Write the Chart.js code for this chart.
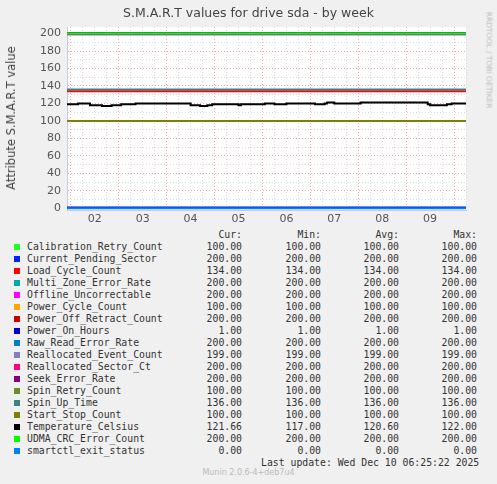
<!DOCTYPE html>
<html>
<head>
<meta charset="utf-8">
<script src="https://cdn.jsdelivr.net/npm/chart.js@4/dist/chart.umd.min.js"></script>
<style>
body { margin: 0; background: #f0f0f0; width: 497px; height: 484px; overflow: hidden; position: relative; font-family: "DejaVu Sans", sans-serif; }
#wrap { position: absolute; left: 0; top: 0; width: 497px; height: 225px; }
#title { position: absolute; top: 5px; left: 0; width: 497px; text-align: center; font-size: 12.5px; color: #444; }
#ylab { position: absolute; left: 11px; top: 118px; transform: translate(-50%, -50%) rotate(-90deg); font-size: 11.5px; color: #444; white-space: nowrap; }
#rrd { position: absolute; left: 489px; top: 60px; transform: translate(-50%, -50%) rotate(90deg); font-size: 7.5px; color: #bbb; white-space: nowrap; }
#legend { position: absolute; top: 229px; left: 0; font-family: "DejaVu Sans Mono", monospace; font-size: 9.8px; color: #333; }
.row { position: absolute; height: 12px; white-space: nowrap; }
.sw { position: absolute; width: 6px; height: 6px; top: 3px; }
.num { position: absolute; text-align: right; width: 70px; }
#foot { position: absolute; top: 468px; left: 0; width: 497px; text-align: center; font-size: 8px; color: #bbb; }
</style>
</head>
<body>
<div id="wrap"><canvas id="c" width="497" height="225"></canvas></div>
<div id="title">S.M.A.R.T values for drive sda - by week</div>
<div id="ylab">Attribute S.M.A.R.T value</div>
<div id="rrd">RRDTOOL / TOBI OETIKER</div>
<div id="legend"></div>
<div id="foot">Munin 2.0.6-4+deb7u4</div>
<script>
const names = ['Calibration_Retry_Count', 'Current_Pending_Sector', 'Load_Cycle_Count', 'Multi_Zone_Error_Rate',
  'Offline_Uncorrectable', 'Power_Cycle_Count', 'Power_Off_Retract_Count', 'Power_On_Hours', 'Raw_Read_Error_Rate',
  'Reallocated_Event_Count', 'Reallocated_Sector_Ct', 'Seek_Error_Rate', 'Spin_Retry_Count', 'Spin_Up_Time',
  'Start_Stop_Count', 'Temperature_Celsius', 'UDMA_CRC_Error_Count', 'smartctl_exit_status'];
const colors = ['#22ff22', '#0022ff', '#ff0000', '#00aaaa', '#ff00ff', '#ffa500', '#cc0000', '#0000cc', '#0080c0',
  '#8080c0', '#ff0080', '#800080', '#688e23', '#408080', '#808000', '#000000', '#00ff00', '#0080ff'];
const curVals = [100, 200, 134, 200, 200, 100, 200, 1, 200, 199, 200, 200, 100, 136, 100, 121.66, 200, 0];
const minVals = [100, 200, 134, 200, 200, 100, 200, 1, 200, 199, 200, 200, 100, 136, 100, 117, 200, 0];
const avgVals = [100, 200, 134, 200, 200, 100, 200, 1, 200, 199, 200, 200, 100, 136, 100, 120.60, 200, 0];
const maxVals = [100, 200, 134, 200, 200, 100, 200, 1, 200, 199, 200, 200, 100, 136, 100, 122, 200, 0];
const tempDays = [1.42, 1.6, 1.65, 1.85, 1.9, 2.1, 2.15, 2.3, 2.35, 2.5, 2.55, 2.8, 2.85, 3.95, 4.0, 4.15, 4.2, 4.3,
  4.35, 4.45, 4.95, 5.0, 5.05, 5.5, 5.55, 5.7, 5.75, 5.95, 6.0, 6.55, 6.6, 6.75, 6.8, 6.85, 7.0, 7.5, 7.55, 8.9,
  8.95, 9.0, 9.3, 9.35, 9.45, 9.75];
const tempVals = [119, 119, 120, 120, 118, 118, 117, 117, 118, 118, 119, 119, 120, 120, 118, 118, 117, 117,
  118, 119, 119, 118, 119, 119, 120, 120, 119, 119, 120, 120, 119, 119, 120, 121, 120, 120, 121, 121,
  119, 118, 118, 119, 120, 120];
const dayLabels = ['02', '03', '04', '05', '06', '07', '08', '09'];
const xMin = 1.42, xMax = 9.75;

const datasets = names.map((n, i) => {
  let data;
  if (n === 'Temperature_Celsius') data = tempDays.map((d, k) => ({ x: d, y: tempVals[k] }));
  else data = [{ x: xMin, y: curVals[i] }, { x: xMax, y: curVals[i] }];
  return { label: n, data: data, borderColor: colors[i], borderWidth: 2, pointRadius: 0, stepped: true, fill: false, order: names.length - i };
});

const bgPlugin = {
  id: 'bg',
  beforeDraw(chart) {
    const a = chart.chartArea, ctx = chart.ctx;
    ctx.save();
    ctx.fillStyle = '#ffffff';
    ctx.fillRect(a.left, a.top, a.right - a.left, a.bottom - a.top);
    ctx.restore();
  }
};

new Chart(document.getElementById('c'), {
  type: 'line',
  data: { datasets: datasets },
  plugins: [bgPlugin],
  options: {
    responsive: false,
    animation: false,
    layout: { padding: { top: 27, right: 31, left: 0, bottom: 0 } },
    plugins: { legend: { display: false }, tooltip: { enabled: false } },
    scales: {
      x: {
        type: 'linear', min: xMin, max: xMax,
        afterFit(s) { s.height = 15; },
        afterBuildTicks(s) {
          const t = [];
          for (let v = 1.5; v <= xMax; v += 0.25) t.push({ value: v });
          s.ticks = t;
        },
        ticks: {
          autoSkip: false, maxRotation: 0, padding: 3, color: '#555', font: { size: 11, family: 'DejaVu Sans' },
          callback: v => Number.isInteger(v) ? dayLabels[v - 2] : ''
        },
        grid: {
          drawTicks: false,
          color: c => (c.tick && Math.abs(c.tick.value % 1 - 0.5) < 0.01) ? '#eeaaaa' : '#dddddd',
          lineWidth: 1
        },
        border: { color: '#c8c8e8', dash: [1, 2] }
      },
      y: {
        min: -2, max: 207.5,
        afterFit(s) { s.width = 67; },
        afterBuildTicks(s) {
          const t = [];
          for (let v = 0; v <= 200; v += 10) t.push({ value: v });
          s.ticks = t;
        },
        ticks: {
          autoSkip: false, padding: 6, color: '#555', font: { size: 11, family: 'DejaVu Sans' },
          callback: v => v % 20 === 0 ? v : ''
        },
        grid: {
          drawTicks: false,
          color: c => (c.tick && c.tick.value % 20 === 0) ? '#eeaaaa' : '#dddddd',
          lineWidth: 1
        },
        border: { color: '#c8c8e8', dash: [1, 2] }
      }
    }
  }
});

const legend = document.getElementById('legend');
function addRow(top, html) {
  const r = document.createElement('div');
  r.className = 'row';
  r.style.top = top + 'px';
  r.innerHTML = html;
  legend.appendChild(r);
}
const cols = [172, 251, 329, 407];
function fmt(v) { return v.toFixed(2); }
let head = '';
['Cur:', 'Min:', 'Avg:', 'Max:'].forEach((h, k) => { head += `<span class="num" style="left:${cols[k]}px">${h}</span>`; });
addRow(0, head);
names.forEach((n, i) => {
  let h = `<span class="sw" style="left:14px;background:${colors[i]}"></span><span style="position:absolute;left:27px">${n}</span>`;
  [curVals, minVals, avgVals, maxVals].forEach((arr, k) => { h += `<span class="num" style="left:${cols[k]}px">${fmt(arr[i])}</span>`; });
  addRow(12 + i * 12, h);
});
addRow(12 + 18 * 12, '<span style="position:absolute;left:261px">Last update: Wed Dec 10 06:25:22 2025</span>');
</script>
</body>
</html>
